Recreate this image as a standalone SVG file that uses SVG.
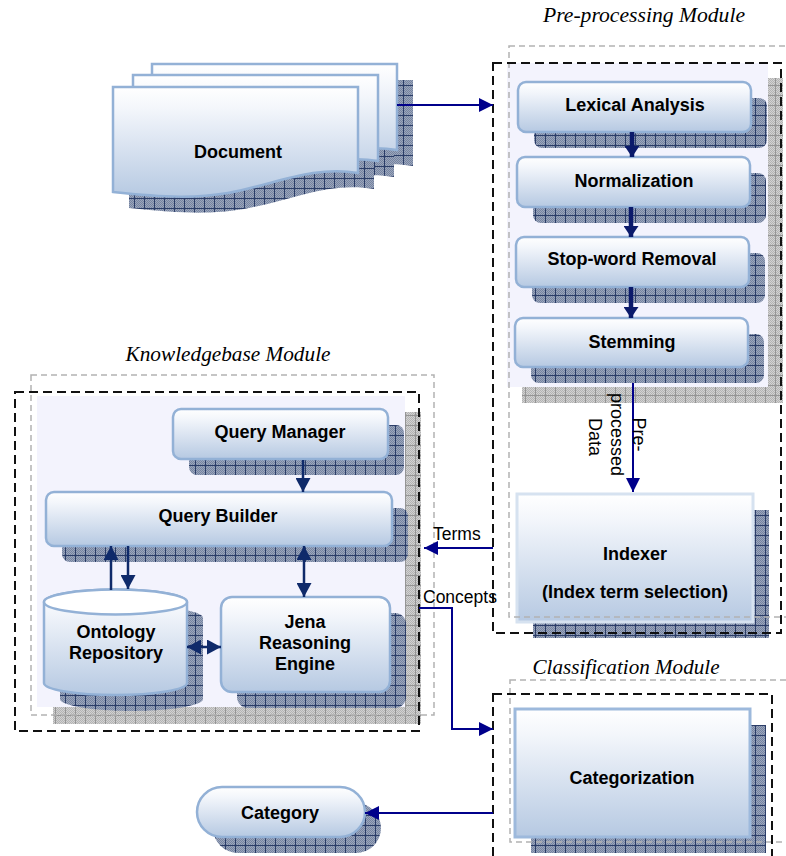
<svg xmlns="http://www.w3.org/2000/svg" xmlns:xlink="http://www.w3.org/1999/xlink" width="786" height="856" viewBox="0 0 786 856">
  <defs>
    <linearGradient id="nodeGrad" x1="0" y1="0" x2="0" y2="1">
      <stop offset="0" stop-color="#ffffff"/>
      <stop offset="0.2" stop-color="#f3f6fb"/>
      <stop offset="1" stop-color="#b6c9e2"/>
    </linearGradient>
    <!-- fine dither used inside the shadow grids -->
    <pattern id="ditherDark" width="2" height="2" patternUnits="userSpaceOnUse">
      <rect width="2" height="2" fill="#9ba6bc"/>
      <rect width="1" height="1" fill="#7583a0"/>
      <rect x="1" y="1" width="1" height="1" fill="#7583a0"/>
    </pattern>
    <pattern id="gridDark" width="10" height="10" patternUnits="userSpaceOnUse">
      <rect width="10" height="10" fill="url(#ditherDark)"/>
      <path d="M0,5.5H10M5.5,0V10" stroke="#2b3d68" stroke-width="1"/>
    </pattern>
    <pattern id="ditherLight" width="2" height="2" patternUnits="userSpaceOnUse">
      <rect width="2" height="2" fill="#d2d2d2"/>
      <rect width="1" height="1" fill="#b3b3b3"/>
      <rect x="1" y="1" width="1" height="1" fill="#b3b3b3"/>
    </pattern>
    <pattern id="gridLight" width="10" height="10" patternUnits="userSpaceOnUse">
      <rect width="10" height="10" fill="url(#ditherLight)"/>
      <path d="M0,5.5H10M5.5,0V10" stroke="#959595" stroke-width="1"/>
    </pattern>
    <!-- sheet of paper with a wavy lower edge -->
    <path id="page" d="M0,0H245V86C200,78 160,98 115,106C85,111 55,111 0,105Z"/>
    <marker id="ahOuter" viewBox="0 0 14 14" refX="14" refY="7" markerWidth="14" markerHeight="14" markerUnits="userSpaceOnUse" orient="auto-start-reverse">
      <path d="M0,0L14,7L0,14Z" fill="#00008b"/>
    </marker>
    <marker id="ahKb" viewBox="0 0 14 15" refX="14" refY="7.5" markerWidth="14" markerHeight="15" markerUnits="userSpaceOnUse" orient="auto-start-reverse">
      <path d="M0,0L14,7.5L0,15Z" fill="#0f2a6a"/>
    </marker>
    <marker id="ahPre" viewBox="0 0 11 15" refX="11" refY="7.5" markerWidth="11" markerHeight="15" markerUnits="userSpaceOnUse" orient="auto">
      <path d="M0,0L11,7.5L0,15Z" fill="#0b1a6b"/>
    </marker>
  </defs>
  <style>
    .box { fill: url(#nodeGrad); stroke: #93b1d6; stroke-width: 2.5; }
    .sh { fill: url(#gridDark); }
    .modsh { fill: url(#gridLight); }
    .lav { fill: #f3f3fd; }
    .frame-g { fill: none; stroke: #b2b2b2; stroke-width: 1.5; stroke-dasharray: 6 4; }
    .frame-k { fill: none; stroke: #111111; stroke-width: 2; stroke-dasharray: 9 5; }
    .lbl { font-family: "Liberation Sans", Arial, sans-serif; font-weight: bold; font-size: 18px; fill: #000; text-anchor: middle; }
    .cap { font-family: "Liberation Sans", Arial, sans-serif; font-size: 17.5px; fill: #000; }
    .title { font-family: "Liberation Serif", "Times New Roman", serif; font-style: italic; font-size: 20px; fill: #000; text-anchor: middle; }
    .link { fill: none; stroke: #00008b; stroke-width: 2; }
    .link-kb { fill: none; stroke: #0f2a6a; stroke-width: 2.5; }
    .link-pre { fill: none; stroke: #0b1a6b; stroke-width: 4.5; }
  </style>

  <rect width="786" height="856" fill="#ffffff"/>

  <!-- module backgrounds -->
  <g id="preprocessing-bg">
    <rect class="modsh" x="522" y="78" width="261" height="325"/>
    <rect class="lav" x="507" y="63" width="261" height="324"/>
  </g>
  <g id="knowledgebase-bg">
    <rect class="modsh" x="53" y="412" width="368" height="312"/>
    <rect class="lav" x="37" y="396" width="368" height="311"/>
  </g>

  <!-- input documents -->
  <g id="document">
    <use xlink:href="#page" x="168" y="80" class="sh"/>
    <use xlink:href="#page" x="149" y="91" class="sh"/>
    <use xlink:href="#page" x="129" y="103" class="sh"/>
    <use xlink:href="#page" x="152" y="64" class="box" stroke-width="2"/>
    <use xlink:href="#page" x="133" y="75" class="box" stroke-width="2"/>
    <use xlink:href="#page" x="113" y="87" class="box" stroke-width="2"/>
    <text class="lbl" x="238" y="158">Document</text>
  </g>

  <!-- pre-processing steps -->
  <g id="lexical-analysis">
    <rect class="sh" x="534" y="98" width="233" height="50" rx="8"/>
    <rect class="box" x="518" y="82" width="233" height="50" rx="8"/>
    <text class="lbl" x="635" y="111">Lexical Analysis</text>
  </g>
  <g id="normalization">
    <rect class="sh" x="533" y="173" width="233" height="50" rx="8"/>
    <rect class="box" x="517" y="157" width="233" height="50" rx="8"/>
    <text class="lbl" x="634" y="187">Normalization</text>
  </g>
  <g id="stop-word-removal">
    <rect class="sh" x="532" y="253" width="233" height="50" rx="8"/>
    <rect class="box" x="516" y="237" width="233" height="50" rx="8"/>
    <text class="lbl" x="632" y="265">Stop-word Removal</text>
  </g>
  <g id="stemming">
    <rect class="sh" x="531" y="334" width="233" height="49" rx="8"/>
    <rect class="box" x="515" y="318" width="233" height="49" rx="8"/>
    <text class="lbl" x="632" y="348">Stemming</text>
  </g>
  <g id="indexer">
    <rect class="sh" x="533" y="510" width="236" height="128"/>
    <rect class="box" x="517" y="494" width="236" height="128" style="stroke:#d6e2f0;stroke-width:3"/>
    <text class="lbl" x="635" y="560">Indexer</text>
    <text class="lbl" x="635" y="598">(Index term selection)</text>
  </g>

  <!-- knowledgebase components -->
  <g id="query-manager">
    <rect class="sh" x="189" y="425" width="215" height="50" rx="8"/>
    <rect class="box" x="173" y="409" width="215" height="50" rx="8"/>
    <text class="lbl" x="280" y="438">Query Manager</text>
  </g>
  <g id="query-builder">
    <rect class="sh" x="62" y="508" width="346" height="54" rx="8"/>
    <rect class="box" x="46" y="492" width="346" height="54" rx="8"/>
    <text class="lbl" x="218" y="522">Query Builder</text>
  </g>
  <g id="ontology-repository">
    <path class="sh" d="M60,618V699A71.5,12 0 0 0 203,699V618A71.5,12.5 0 0 0 60,618Z"/>
    <path class="box" d="M44,602V683A71.5,12 0 0 0 187,683V602A71.5,12.5 0 0 0 44,602Z"/>
    <ellipse cx="115.5" cy="602" rx="71.5" ry="12.5" fill="#ffffff" stroke="#93b1d6" stroke-width="2.5"/>
    <text class="lbl" x="116" y="638">Ontology</text>
    <text class="lbl" x="116" y="659">Repository</text>
  </g>
  <g id="jena-reasoning-engine">
    <rect class="sh" x="237" y="613" width="169" height="95" rx="11"/>
    <rect class="box" x="221" y="597" width="169" height="95" rx="11"/>
    <text class="lbl" x="305" y="628">Jena</text>
    <text class="lbl" x="305" y="649">Reasoning</text>
    <text class="lbl" x="305" y="670">Engine</text>
  </g>

  <!-- classification -->
  <g id="categorization">
    <rect class="sh" x="531" y="725" width="235" height="128"/>
    <rect class="box" x="515" y="709" width="235" height="128" style="stroke:#9db9dc;stroke-width:3"/>
    <text class="lbl" x="632" y="784">Categorization</text>
  </g>
  <g id="category">
    <rect class="sh" x="213" y="803" width="168" height="50" rx="25"/>
    <rect class="box" x="197" y="787" width="168" height="50" rx="25"/>
    <text class="lbl" x="280" y="819">Category</text>
  </g>

  <!-- module frames -->
  <g id="module-frames">
    <rect class="frame-g" x="509" y="46" width="290" height="571"/>
    <rect class="frame-k" x="493" y="63" width="288" height="570"/>
    <rect class="frame-g" x="31" y="375" width="403" height="340"/>
    <rect class="frame-k" x="15" y="392" width="404" height="339"/>
    <rect class="frame-g" x="510" y="680" width="290" height="162"/>
    <rect class="frame-k" x="493" y="694" width="279" height="180"/>
  </g>

  <!-- connectors -->
  <g id="connectors">
    <path class="link" d="M397,105H493" marker-end="url(#ahOuter)"/>
    <path class="link-pre" d="M632,132V157" marker-end="url(#ahPre)"/>
    <path class="link-pre" d="M631,207V237" marker-end="url(#ahPre)"/>
    <path class="link-pre" d="M631,287V318" marker-end="url(#ahPre)"/>
    <path class="link" d="M633,383V492" marker-end="url(#ahOuter)"/>
    <path class="link" d="M493,548H424" marker-end="url(#ahOuter)"/>
    <path class="link" d="M419,608H452V729H493" marker-end="url(#ahOuter)"/>
    <path class="link" d="M493,813H365" marker-end="url(#ahOuter)"/>
    <path class="link-kb" d="M303,460V492" marker-end="url(#ahKb)"/>
    <path class="link-kb" d="M111,590V546" marker-end="url(#ahKb)"/>
    <path class="link-kb" d="M128,546V589" marker-end="url(#ahKb)"/>
    <path class="link-kb" d="M304,546V597" marker-start="url(#ahKb)" marker-end="url(#ahKb)"/>
    <path class="link-kb" d="M187,647H221" marker-start="url(#ahKb)" marker-end="url(#ahKb)"/>
  </g>

  <!-- connector labels -->
  <g id="connector-labels">
    <text class="cap" transform="translate(633,437) rotate(90)" text-anchor="middle" style="font-size:18px">
      <tspan x="0" y="0">Pre-</tspan>
      <tspan x="0" y="22">processed</tspan>
      <tspan x="0" y="44">Data</tspan>
    </text>
    <text class="cap" x="433" y="540">Terms</text>
    <text class="cap" x="423" y="603">Concepts</text>
  </g>

  <!-- module titles -->
  <g id="module-titles">
    <text class="title" x="644" y="22" textLength="202" lengthAdjust="spacingAndGlyphs">Pre-processing Module</text>
    <text class="title" x="228" y="361" textLength="205" lengthAdjust="spacingAndGlyphs">Knowledgebase Module</text>
    <text class="title" x="626" y="674" textLength="187" lengthAdjust="spacingAndGlyphs">Classification Module</text>
  </g>
</svg>
